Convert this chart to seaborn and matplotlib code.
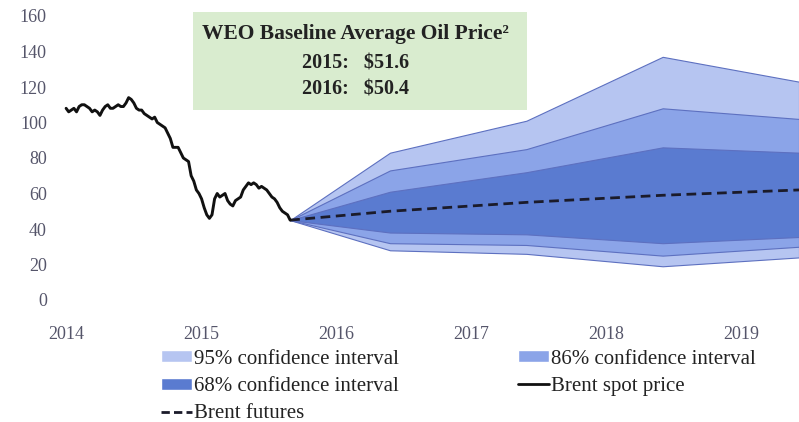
import matplotlib
matplotlib.use("Agg")
import matplotlib.pyplot as plt
import numpy as np
import pandas as pd
import seaborn as sns
from matplotlib.lines import Line2D
from matplotlib.patches import Patch, Rectangle

# Brent spot price, weekly, Jan 2014 -> late Aug 2015
spot_prices = [
    108, 106, 107, 108, 106, 109, 110, 110, 109, 108, 106, 107,
    106, 104, 107, 109, 110, 108, 108, 109, 110, 109, 109, 111,
    114, 113, 111, 108, 107, 107, 105, 104, 103, 102, 103, 100,
    99, 98, 97, 94, 91, 86, 86, 86, 83, 80, 79, 78,
    70, 67, 62, 60, 57,
    52, 48, 46, 48, 57, 60, 58, 59, 60, 56, 54, 53,
    56, 57, 58, 62, 64, 66, 65, 66, 65, 63, 64, 63,
    62, 60, 58, 57, 55, 52, 50, 49, 48, 45,
]
spot_start = 2014.0
spot_end = 2015.66

# fan chart knots
fan_years = [2015.66, 2016.40, 2017.41, 2018.42, 2019.43]
futures   = [45, 50, 55, 59, 62]
ci95_low  = [45, 28, 26, 19, 24]
ci95_high = [45, 83, 101, 137, 123]
ci86_low  = [45, 32, 31, 25, 30]
ci86_high = [45, 73, 85, 108, 102]
ci68_low  = [45, 38, 37, 32, 35.5]
ci68_high = [45, 61, 72, 86, 83]

year_ticks = [2014, 2015, 2016, 2017, 2018, 2019]
y_ticks = [0, 20, 40, 60, 80, 100, 120, 140, 160]

C95 = "#b6c5f1"
C86 = "#8ba4e8"
C68 = "#5a7bd0"
EDGE = "#5d70c0"
TICK_COL = "#55556a"

sns.set_style("white")
plt.rcParams["font.family"] = ["Liberation Serif", "DejaVu Serif"]

fig = plt.figure(figsize=(7.99, 4.22), dpi=100)
ax = fig.add_axes([58 / 799, 122 / 422, 741 / 799, 284 / 422])

spot = pd.DataFrame({
    "year": np.linspace(spot_start, spot_end, len(spot_prices)),
    "price": spot_prices,
})
fan = pd.DataFrame({"year": fan_years, "futures": futures})

# confidence bands, widest first
for lo, hi, col in [(ci95_low, ci95_high, C95),
                    (ci86_low, ci86_high, C86),
                    (ci68_low, ci68_high, C68)]:
    ax.fill_between(fan_years, lo, hi, color=col, edgecolor=EDGE, linewidth=0.8, zorder=1)

sns.lineplot(data=fan, x="year", y="futures", ax=ax, color="#1b1b2a",
             linewidth=2.0, linestyle=(0, (3.5, 2)), zorder=3)
sns.lineplot(data=spot, x="year", y="price", ax=ax, color="#111111",
             linewidth=2.1, zorder=4)

ax.set_xlim(2013.94, 2019.43)
ax.set_ylim(0, 160)
ax.set_xticks(year_ticks)
ax.set_xticklabels([str(y) for y in year_ticks])
ax.set_yticks(y_ticks)
ax.set_xlabel("")
ax.set_ylabel("")
ax.tick_params(axis="both", length=0, labelsize=13, colors=TICK_COL)
ax.tick_params(axis="x", pad=19)
ax.tick_params(axis="y", pad=8)
for s in ax.spines.values():
    s.set_visible(False)

# green info box
fig.patches.append(Rectangle((193 / 799, 1 - 110 / 422), 334 / 799, 98 / 422,
                             transform=fig.transFigure, facecolor="#d9eccf",
                             edgecolor="none", zorder=0))
fig.text(355 / 799, 1 - 34 / 422, "WEO Baseline Average Oil Price²",
         ha="center", va="center", fontsize=15.5, fontweight="bold", color="#222222")
fig.text(302 / 799, 1 - 64 / 422, "2015:   \\$51.6", ha="left", va="center",
         fontsize=14.5, fontweight="bold", color="#222222")
fig.text(302 / 799, 1 - 90 / 422, "2016:   \\$50.4", ha="left", va="center",
         fontsize=14.5, fontweight="bold", color="#222222")

handles = [
    Patch(facecolor=C95, label="95% confidence interval"),
    Patch(facecolor=C68, label="68% confidence interval"),
    Line2D([], [], color="#1b1b2a", lw=2, ls=(0, (3, 1.5)), label="Brent futures"),
    Patch(facecolor=C86, label="86% confidence interval"),
    Line2D([], [], color="#111111", lw=2, label="Brent spot price"),
]
fig.legend(handles=handles, ncol=2, loc="upper left",
           bbox_to_anchor=(142 / 799, 1 - 331 / 422), frameon=False,
           fontsize=15, handlelength=1.5, handleheight=0.5, handletextpad=0.1,
           columnspacing=5.7, labelspacing=0.4, labelcolor="#222222")

fig.savefig("out.png", dpi=100)
